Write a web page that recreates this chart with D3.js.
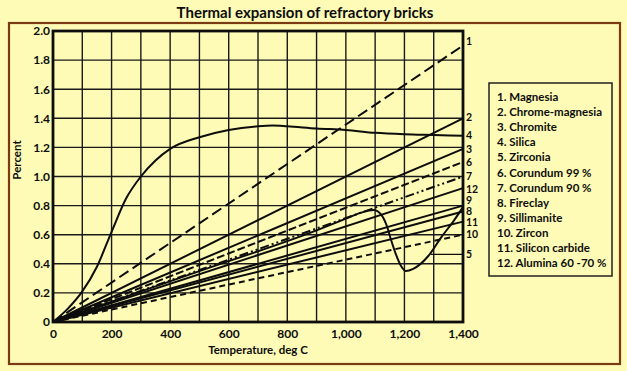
<!DOCTYPE html>
<html>
<head>
<meta charset="utf-8">
<script src="https://cdn.jsdelivr.net/npm/d3@7"></script>
<style>
  body { margin: 0; background: #fefbb6; }
  svg { display: block; font-family: Lato, "Open Sans", sans-serif; font-weight: bold; }
</style>
</head>
<body>
<svg width="627" height="371"></svg>
<script>
// series names, legend order
var names = ["Magnesia", "Chrome-magnesia", "Chromite", "Silica", "Zirconia",
  "Corundum 99 %", "Corundum 90 %", "Fireclay", "Sillimanite", "Zircon",
  "Silicon carbide", "Alumina 60 -70 %"];

// straight lines: temperature and percent at both ends
var lineTemps = [0, 1400];
var magnesia = [0, 1.90];
var chromeMagnesia = [0, 1.40];
var chromite = [0, 1.19];
var corundum99 = [0, 1.10];
var corundum90 = [0, 1.00];
var fireclay = [0, 0.76];
var sillimanite = [0, 0.80];
var zircon = [0, 0.60];
var siliconCarbide = [0, 0.69];
var alumina = [0, 0.92];

// curved series
var silicaTemps = [0, 50, 100, 150, 200, 250, 300, 350, 400, 500, 600, 700, 750, 800, 900, 1000, 1100, 1200, 1300, 1400];
var silica = [0, 0.09, 0.21, 0.38, 0.62, 0.85, 1.00, 1.11, 1.19, 1.27, 1.32, 1.345, 1.35, 1.345, 1.33, 1.32, 1.30, 1.29, 1.285, 1.28];
var zirconiaTemps = [0, 500, 900, 1000, 1050, 1095, 1120, 1140, 1155, 1170, 1190, 1205, 1230, 1280, 1325, 1370, 1400];
var zirconia = [0, 0.35, 0.63, 0.71, 0.75, 0.77, 0.74, 0.66, 0.56, 0.47, 0.38, 0.35, 0.365, 0.45, 0.58, 0.70, 0.79];

var xTicks = [0, 200, 400, 600, 800, 1000, 1200, 1400];
var yTicks = [0, 0.2, 0.4, 0.6, 0.8, 1.0, 1.2, 1.4, 1.6, 1.8, 2.0];

var svg = d3.select("svg");
var ink = "#0d0d0d";

var x = d3.scaleLinear().domain([0, 1400]).range([53, 463]);
var y = d3.scaleLinear().domain([0, 2]).range([322, 31]);

// outer frame
svg.append("rect").attr("x", 9).attr("y", 23).attr("width", 611).attr("height", 341)
  .attr("fill", "none").attr("stroke", "#7a3a12").attr("stroke-width", 2.2);

svg.append("text").attr("x", 305).attr("y", 18).attr("text-anchor", "middle")
  .attr("font-size", "15px").attr("fill", ink).text("Thermal expansion of refractory bricks");

// grid
var g = svg.append("g");
g.selectAll(".vgrid").data(d3.range(0, 1401, 100)).enter().append("line")
  .attr("x1", d => x(d)).attr("x2", d => x(d)).attr("y1", y(0)).attr("y2", y(2))
  .attr("stroke", "#1a1a1a").attr("stroke-width", 1.4);
g.selectAll(".hgrid").data(yTicks).enter().append("line")
  .attr("x1", x(0)).attr("x2", x(1400)).attr("y1", d => y(d)).attr("y2", d => y(d))
  .attr("stroke", "#1a1a1a").attr("stroke-width", 1.4);
g.append("rect").attr("x", x(0)).attr("y", y(2)).attr("width", x(1400) - x(0)).attr("height", y(0) - y(2))
  .attr("fill", "none").attr("stroke", ink).attr("stroke-width", 2.8);

// axes
var xAxis = svg.append("g").attr("transform", "translate(0," + y(0) + ")")
  .call(d3.axisBottom(x).tickValues(xTicks).tickSize(0).tickPadding(7).tickFormat(d3.format(",")));
var yAxis = svg.append("g").attr("transform", "translate(" + x(0) + ",0)")
  .call(d3.axisLeft(y).tickValues(yTicks).tickSize(0).tickPadding(3)
    .tickFormat(d => d === 0 ? "0" : d3.format(".1f")(d)));
[xAxis, yAxis].forEach(function(a) {
  a.select(".domain").remove();
  a.selectAll("text").attr("font-size", "12px").attr("fill", ink)
    .attr("font-family", "Lato, sans-serif").attr("font-weight", "bold");
});

svg.append("text").attr("x", 258).attr("y", 354).attr("text-anchor", "middle")
  .attr("font-size", "11.5px").attr("fill", ink).text("Temperature, deg C");
svg.append("text").attr("transform", "translate(21," + 160 + ") rotate(-90)")
  .attr("text-anchor", "middle").attr("font-size", "11.5px").attr("fill", ink).text("Percent");

// series
var series = [
  { id: 1, t: lineTemps, v: magnesia, dash: "11,5" },
  { id: 2, t: lineTemps, v: chromeMagnesia, dash: null },
  { id: 3, t: lineTemps, v: chromite, dash: null },
  { id: 4, t: silicaTemps, v: silica, dash: null },
  { id: 5, t: zirconiaTemps, v: zirconia, dash: null },
  { id: 6, t: lineTemps, v: corundum99, dash: "8,3" },
  { id: 7, t: lineTemps, v: corundum90, dash: "9,3,2,3,2,3" },
  { id: 8, t: lineTemps, v: fireclay, dash: null },
  { id: 9, t: lineTemps, v: sillimanite, dash: null },
  { id: 10, t: lineTemps, v: zircon, dash: "6,4" },
  { id: 11, t: lineTemps, v: siliconCarbide, dash: null },
  { id: 12, t: lineTemps, v: alumina, dash: null }
];

var line = d3.line().x(d => x(d[0])).y(d => y(d[1])).curve(d3.curveMonotoneX);
svg.append("g").selectAll("path").data(series).enter().append("path")
  .attr("d", s => line(s.t.map((t, i) => [t, s.v[i]])))
  .attr("fill", "none").attr("stroke", ink).attr("stroke-width", 2)
  .attr("stroke-dasharray", s => s.dash);

// end labels, nudged so they don't collide
var nudge = { 1: -4, 2: -1, 3: 0, 4: 0, 5: 0, 6: 0, 7: 0, 8: 0, 9: -5, 10: 0, 11: 1, 12: 1 };
var lab = svg.append("g");
series.forEach(function(s) {
  var end = s.v[s.v.length - 1];
  var ly = y(end) + nudge[s.id];
  if (s.id === 5) {
    ly = y(0.465);
    lab.append("line").attr("x1", x(1290)).attr("x2", x(1400)).attr("y1", ly).attr("y2", ly)
      .attr("stroke", ink).attr("stroke-width", 1.2);
  }
  lab.append("text").attr("x", 466).attr("y", ly).attr("dy", "0.35em")
    .attr("font-size", "10.5px").attr("fill", ink).text(s.id);
});

// legend
svg.append("rect").attr("x", 489).attr("y", 83).attr("width", 123).attr("height", 193)
  .attr("fill", "none").attr("stroke", "#222").attr("stroke-width", 1.5);
svg.append("g").selectAll("text").data(names).enter().append("text")
  .attr("x", 497).attr("y", (d, i) => 97 + i * 15.1).attr("dy", "0.35em")
  .attr("font-size", "11.5px").attr("fill", ink)
  .text((d, i) => (i + 1) + ". " + d);
</script>
</body>
</html>
